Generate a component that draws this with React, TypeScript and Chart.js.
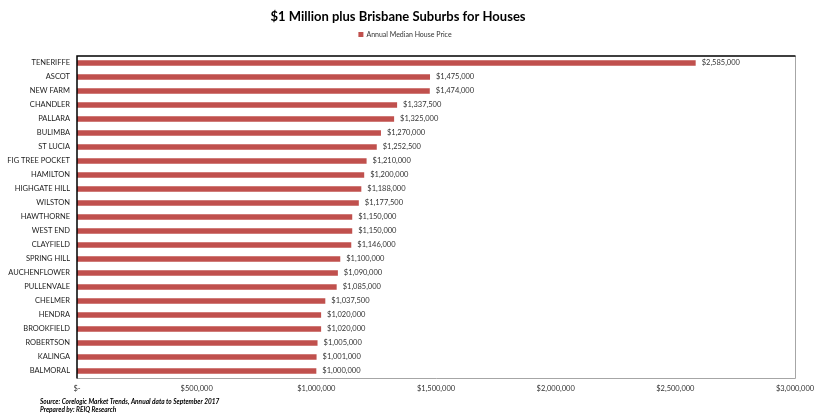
import React, { useEffect, useRef } from "react";
import { Chart, registerables } from "chart.js";

Chart.register(...registerables);

const suburbs = [
  "TENERIFFE", "ASCOT", "NEW FARM", "CHANDLER", "PALLARA", "BULIMBA", "ST LUCIA",
  "FIG TREE POCKET", "HAMILTON", "HIGHGATE HILL", "WILSTON", "HAWTHORNE", "WEST END",
  "CLAYFIELD", "SPRING HILL", "AUCHENFLOWER", "PULLENVALE", "CHELMER", "HENDRA",
  "BROOKFIELD", "ROBERTSON", "KALINGA", "BALMORAL",
];
const medianPrices = [
  2585000, 1475000, 1474000, 1337500, 1325000, 1270000, 1252500,
  1210000, 1200000, 1188000, 1177500, 1150000, 1150000,
  1146000, 1100000, 1090000, 1085000, 1037500, 1020000,
  1020000, 1005000, 1001000, 1000000,
];
const seriesLabel = "Annual Median House Price";
const titleText = "$1 Million plus Brisbane Suburbs for Houses";
const footnotes = [
  "Source: Corelogic Market Trends, Annual data to September 2017",
  "Prepared by: REIQ Research",
];

const FONT = "Lato, 'Liberation Sans', sans-serif";
const BAR = "#c0504d";

const fmt = (v: number) => (v === 0 ? "$-" : "$" + v.toLocaleString("en-US"));

export default function App() {
  const ref = useRef<HTMLCanvasElement | null>(null);
  useEffect(() => {
    document.body.style.margin = "0";
    const canvas = ref.current!;
    const decor = {
      id: "decor",
      afterDraw(chart: any) {
        const ctx = chart.ctx;
        const { left, right, top, bottom } = chart.chartArea;
        ctx.save();
        // border
        ctx.strokeStyle = "#a6a6a6";
        ctx.lineWidth = 1;
        ctx.beginPath();
        ctx.moveTo(right + 0.5, top);
        ctx.lineTo(right + 0.5, bottom + 0.5);
        ctx.lineTo(left, bottom + 0.5);
        ctx.stroke();
        ctx.strokeStyle = "#000";
        ctx.lineWidth = 1.5;
        ctx.beginPath();
        ctx.moveTo(left, bottom + 0.5);
        ctx.lineTo(left, top);
        ctx.lineTo(right + 0.5, top);
        ctx.stroke();
        // title
        ctx.fillStyle = "#000";
        ctx.textAlign = "center";
        ctx.textBaseline = "middle";
        ctx.font = `bold 13px ${FONT}`;
        ctx.fillText(titleText, 398, 17);
        // legend
        ctx.font = `7px ${FONT}`;
        const w = ctx.measureText(seriesLabel).width;
        const lx = 405 - (w + 8) / 2;
        ctx.fillStyle = BAR;
        ctx.fillRect(lx, 32, 5, 5);
        ctx.fillStyle = "#333";
        ctx.textAlign = "left";
        ctx.fillText(seriesLabel, lx + 8, 35);
        // value labels
        ctx.font = `7.5px ${FONT}`;
        ctx.fillStyle = "#333";
        const meta = chart.getDatasetMeta(0);
        meta.data.forEach((el: any, i: number) => {
          ctx.fillText(fmt(medianPrices[i]), el.x + 6, el.y);
        });
        // footnotes
        ctx.font = `italic bold 6.5px ${FONT}`;
        ctx.fillStyle = "#000";
        ctx.fillText(footnotes[0], 40, 402);
        ctx.fillText(footnotes[1], 40, 410);
        ctx.restore();
      },
    };
    const chart = new Chart(canvas, {
      type: "bar",
      data: {
        labels: suburbs,
        datasets: [
          {
            label: seriesLabel,
            data: medianPrices,
            backgroundColor: BAR,
            barPercentage: 0.38,
            categoryPercentage: 1,
          },
        ],
      },
      options: {
        indexAxis: "y",
        animation: false,
        responsive: false,
        layout: { padding: { top: 56, left: 0, right: 26, bottom: 0 } },
        plugins: {
          legend: { display: false },
          title: { display: false },
          tooltip: { enabled: false },
        },
        scales: {
          x: {
            min: 0,
            max: 3000000,
            grid: { display: false, drawTicks: false },
            border: { display: false },
            ticks: {
              stepSize: 500000,
              color: "#333",
              font: { family: FONT, size: 7.5 },
              padding: 6,
              callback: (v: any) => fmt(Number(v)),
            },
            afterFit: (s: any) => {
              s.height = 40;
            },
          },
          y: {
            grid: { display: false, drawTicks: false },
            border: { display: false },
            ticks: {
              color: "#222",
              font: { family: FONT, size: 7.5 },
              padding: 7,
              autoSkip: false,
            },
            afterFit: (s: any) => {
              s.width = 77;
            },
          },
        },
      },
      plugins: [decor],
    });
    return () => chart.destroy();
  }, []);
  return (
    <div style={{ position: "absolute", left: 0, top: 0, width: 821, height: 418 }}>
      <canvas ref={ref} width={821} height={418} />
    </div>
  );
}
